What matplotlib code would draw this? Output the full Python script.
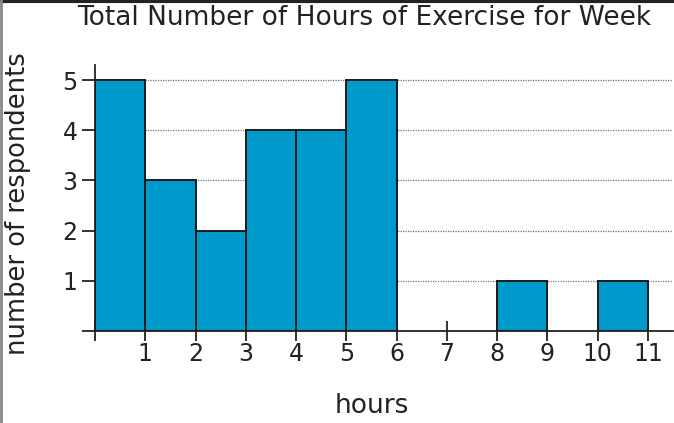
import matplotlib
matplotlib.use("Agg")
import matplotlib.pyplot as plt
from matplotlib.lines import Line2D

bin_edges = [0, 1, 2, 3, 4, 5, 6, 7, 8, 9, 10, 11]
counts = [5, 3, 2, 4, 4, 5, 0, 0, 1, 0, 1]
x_tick_labels = ["", "1", "2", "3", "4", "5", "6", "7", "8", "9", "10", "11"]
y_tick_labels = ["", "1", "2", "3", "4", "5"]
title = "Total Number of Hours of Exercise for Week"
xlabel = "hours"
ylabel = "number of respondents"

W, H = 674, 423
fig = plt.figure(figsize=(W / 100, H / 100), dpi=100)
ax = fig.add_axes([95 / W, 1 - 331 / H, 578 / W, 266 / H])

lefts = bin_edges[:-1]
widths = [bin_edges[i + 1] - bin_edges[i] for i in range(len(counts))]
for l, w, c in zip(lefts, widths, counts):
    if c > 0:
        ax.bar(l, c, width=w, align="edge", color="#0099CC",
               edgecolor="#1a1a1a", linewidth=1.4, zorder=3)

ax.set_xlim(0, 11.5)
ax.set_ylim(0, 5.3)
ax.set_xticks(bin_edges)
ax.set_xticklabels(x_tick_labels)
ax.set_yticks(range(len(y_tick_labels)))
ax.set_yticklabels(y_tick_labels)

for y in range(1, 6):
    ax.axhline(y, color="#777777", linestyle=(0, (1, 1)), linewidth=0.9, zorder=1)

for s in ["top", "right"]:
    ax.spines[s].set_visible(False)
for s in ["left", "bottom"]:
    ax.spines[s].set_color("#222222")
    ax.spines[s].set_linewidth(1.3)

ax.tick_params(axis="x", direction="inout", length=14, width=1.3, color="#222222",
               labelsize=17, pad=1, labelcolor="#222222")
ax.tick_params(axis="y", direction="out", length=9.5, width=1.3, color="#222222",
               labelsize=17, pad=3, labelcolor="#222222")

fig.text(364 / W, 1 - 18 / H, title, fontsize=19, color="#222222",
         ha="center", va="center")
fig.text(372 / W, 1 - 406 / H, xlabel, fontsize=19, color="#222222",
         ha="center", va="center")
fig.text(18 / W, 1 - 204 / H, ylabel, fontsize=18.5, color="#222222",
         ha="center", va="center", rotation=90)

fig.add_artist(Line2D([0, 1], [1 - 1.5 / H, 1 - 1.5 / H], transform=fig.transFigure,
                      color="#222222", linewidth=3))
fig.add_artist(Line2D([1 / W, 1 / W], [0, 1], transform=fig.transFigure,
                      color="#888888", linewidth=2))

fig.savefig("out.png", dpi=100)
